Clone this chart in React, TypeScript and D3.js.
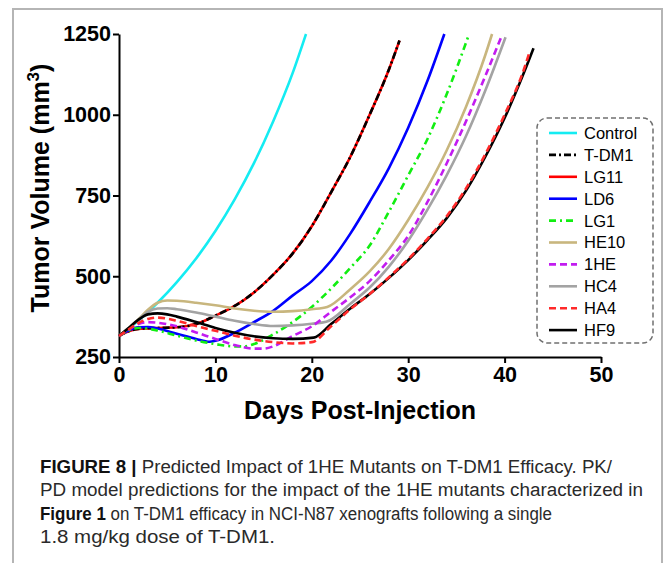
import { useEffect, useRef } from 'react';
import * as d3 from 'd3';

// series: [day, tumor volume mm^3]
const control = [[0, 315], [2, 362], [4, 418], [6, 482], [8, 555], [10, 640], [12, 738], [14, 850], [16, 980], [18, 1128], [19.4, 1250]];
const lg11 = [[0, 315], [1, 330], [2, 337], [4, 340], [6, 342], [8, 352], [10, 378], [12, 408], [14, 450], [16, 505], [18, 570], [20, 655], [22, 760], [24, 870], [26, 1000], [28, 1140], [29.1, 1230]];
const tdm1 = [[0, 315], [1, 330], [2, 337], [4, 340], [6, 342], [8, 352], [10, 378], [12, 408], [14, 450], [16, 505], [18, 570], [20, 655], [22, 760], [24, 870], [26, 1000], [28, 1140], [29.1, 1230]];
const ld6 = [[0, 315], [1, 332], [2, 342], [3, 343], [4, 338], [6, 322], [8, 306], [9.4, 297], [10, 300], [12, 325], [14, 358], [16, 393], [18, 440], [20, 485], [22, 548], [24, 632], [26, 730], [28, 835], [30, 960], [32, 1105], [33.75, 1250]];
const lg1 = [[0, 315], [1, 332], [2, 340], [3, 338], [4, 332], [6, 316], [8, 301], [10, 290], [12, 283], [13, 283], [14, 290], [16, 320], [18, 358], [20, 405], [22, 462], [24, 526], [26, 595], [28, 700], [30, 812], [32, 925], [34, 1064], [36.2, 1240]];
const he10 = [[0, 315], [1, 340], [2, 366], [3, 396], [4, 418], [5, 425], [6, 424], [8, 418], [10, 410], [12, 400], [14, 393], [16, 390], [18, 392], [20, 398], [21.6, 405], [24, 460], [26, 515], [28, 585], [30, 674], [32, 775], [34, 890], [36, 1025], [38, 1185], [38.7, 1250]];
const he1 = [[0, 315], [1, 335], [2, 352], [3, 358], [4, 356], [6, 345], [8, 326], [10, 306], [12, 287], [14, 276], [15, 276], [16, 283], [18, 315], [20, 345], [22, 390], [24, 435], [26, 485], [28, 550], [30, 625], [32, 730], [34, 850], [36, 980], [38, 1120], [39.6, 1237]];
const hc4 = [[0, 315], [1, 340], [2, 365], [3, 390], [4, 400], [5, 401], [6, 398], [8, 388], [10, 375], [12, 362], [14, 352], [16, 346], [18, 348], [20, 353], [21.5, 359], [24, 415], [26, 465], [28, 530], [30, 610], [32, 706], [34, 813], [36, 934], [38, 1075], [40.1, 1240]];
const ha4 = [[0, 315], [1, 335], [2, 355], [3, 368], [4, 372], [5, 369], [6, 362], [8, 346], [10, 331], [12, 316], [14, 304], [16, 296], [18, 292], [20, 296], [22, 345], [24, 398], [26, 445], [28, 497], [30, 553], [32, 616], [34, 686], [36, 772], [38, 878], [40, 1000], [42, 1140], [42.6, 1195]];
const hf9 = [[0, 315], [1, 340], [2, 365], [3, 382], [4, 385], [5, 382], [6, 375], [8, 358], [10, 340], [12, 325], [14, 314], [16, 308], [18, 306], [20.2, 310], [22, 352], [24, 400], [26, 445], [28, 495], [30, 550], [32, 612], [34, 680], [36, 765], [38, 870], [40, 990], [42, 1130], [43, 1206]];

const legendNames = ['Control', 'T-DM1', 'LG11', 'LD6', 'LG1', 'HE10', '1HE', 'HC4', 'HA4', 'HF9'];
const xTicks = [0, 10, 20, 30, 40, 50];
const yTicks = [250, 500, 750, 1000, 1250];

const styles = {
  Control: { color: '#14ecf2', dash: null },
  'T-DM1': { color: '#000000', dash: '7,3,2,3' },
  LG11: { color: '#ff0000', dash: null },
  LD6: { color: '#0000ff', dash: null },
  LG1: { color: '#11ee11', dash: '7,4,2,4' },
  HE10: { color: '#c8b67e', dash: null },
  '1HE': { color: '#c21cf0', dash: '7,4' },
  HC4: { color: '#a3a3a3', dash: null },
  HA4: { color: '#ff2a2a', dash: '7,4' },
  HF9: { color: '#000000', dash: null },
};

// drawing order (overlapping pairs: dashed one on top)
const drawOrder = [
  ['Control', control], ['LG11', lg11], ['T-DM1', tdm1], ['LD6', ld6], ['LG1', lg1],
  ['HE10', he10], ['HC4', hc4], ['1HE', he1], ['HF9', hf9], ['HA4', ha4],
];

const FONT = '"Liberation Sans", Arial, sans-serif';

const App = () => {
  const svgRef = useRef(null);

  useEffect(() => {
    const svg = d3.select(svgRef.current);
    svg.selectAll('*').remove();

    // figure frame
    svg.append('rect')
      .attr('x', 13).attr('y', 9).attr('width', 649).attr('height', 600)
      .attr('fill', 'white').attr('stroke', '#b5b5b5').attr('stroke-width', 2);

    const x = d3.scaleLinear().domain([0, 50]).range([119, 601]);
    const y = d3.scaleLinear().domain([250, 1250]).range([357, 34]);

    // axes
    const xAxis = svg.append('g')
      .attr('transform', `translate(0,${y(250)})`)
      .call(d3.axisBottom(x).tickValues(xTicks).tickFormat(d3.format('d')).tickSize(6).tickPadding(4).tickSizeOuter(0));
    const yAxis = svg.append('g')
      .attr('transform', `translate(${x(0)},0)`)
      .call(d3.axisLeft(y).tickValues(yTicks).tickFormat(d3.format('d')).tickSize(6).tickPadding(2).tickSizeOuter(0));

    [xAxis, yAxis].forEach((g) => {
      g.select('.domain').attr('stroke', '#000').attr('stroke-width', 2);
      g.selectAll('.tick line').attr('stroke', '#000').attr('stroke-width', 2);
      g.selectAll('.tick text')
        .attr('fill', '#000')
        .style('font-family', FONT)
        .style('font-size', '21.5px')
        .style('font-weight', 'bold');
    });

    // axis titles
    svg.append('text')
      .attr('x', 360).attr('y', 419)
      .attr('text-anchor', 'middle')
      .style('font-family', FONT).style('font-size', '25px').style('font-weight', 'bold')
      .text('Days Post-Injection');

    const yt = svg.append('text')
      .attr('transform', 'translate(49,188) rotate(-90)')
      .attr('text-anchor', 'middle')
      .style('font-family', FONT).style('font-size', '25px').style('font-weight', 'bold');
    yt.append('tspan').text('Tumor Volume (mm');
    yt.append('tspan').attr('dy', -10).style('font-size', '17px').text('3');
    yt.append('tspan').attr('dy', 10).text(')');

    // curves
    const line = d3.line()
      .x((d) => x(d[0]))
      .y((d) => y(d[1]))
      .curve(d3.curveMonotoneX);

    drawOrder.forEach(([name, pts]) => {
      const s = styles[name];
      svg.append('path')
        .datum(pts)
        .attr('fill', 'none')
        .attr('stroke', s.color)
        .attr('stroke-width', 2.6)
        .attr('stroke-dasharray', s.dash)
        .attr('d', line);
    });

    // legend
    svg.append('rect')
      .attr('x', 537).attr('y', 118).attr('width', 116).attr('height', 225)
      .attr('rx', 10)
      .attr('fill', 'white')
      .attr('stroke', '#707070').attr('stroke-width', 1.5).attr('stroke-dasharray', '5,3');

    const legend = svg.selectAll('.legend')
      .data(legendNames)
      .enter()
      .append('g')
      .attr('class', 'legend')
      .attr('transform', (d, i) => `translate(549,${133 + i * 21.9})`);

    legend.append('line')
      .attr('x1', 0).attr('x2', 28)
      .attr('stroke', (d) => styles[d].color)
      .attr('stroke-width', 2.6)
      .attr('stroke-dasharray', (d) => styles[d].dash);

    legend.append('text')
      .attr('x', 35).attr('dy', '0.36em')
      .style('font-family', FONT).style('font-size', '16.5px')
      .text((d) => d);

    // caption
    const caption = [
      { bold: 'FIGURE 8 | ', rest: 'Predicted Impact of 1HE Mutants on T-DM1 Efficacy. PK/', w: 572 },
      { bold: '', rest: 'PD model predictions for the impact of the 1HE mutants characterized in', w: 603 },
      { bold: 'Figure 1', rest: ' on T-DM1 efficacy in NCI-N87 xenografts following a single', w: 512 },
      { bold: '', rest: '1.8 mg/kg dose of T-DM1.', w: 235 },
    ];
    caption.forEach((c, i) => {
      const t = svg.append('text')
        .attr('x', 40).attr('y', 473 + i * 23.4)
        .attr('textLength', c.w).attr('lengthAdjust', 'spacingAndGlyphs')
        .attr('fill', '#2a2a2a')
        .style('font-family', FONT).style('font-size', '18px');
      if (c.bold) t.append('tspan').style('font-weight', 'bold').attr('fill', '#111').text(c.bold);
      t.append('tspan').text(c.rest);
    });
  }, []);

  return (
    <svg
      ref={svgRef}
      width={665}
      height={563}
      style={{ position: 'absolute', left: 0, top: 0, background: 'white' }}
    ></svg>
  );
};

export default App;
